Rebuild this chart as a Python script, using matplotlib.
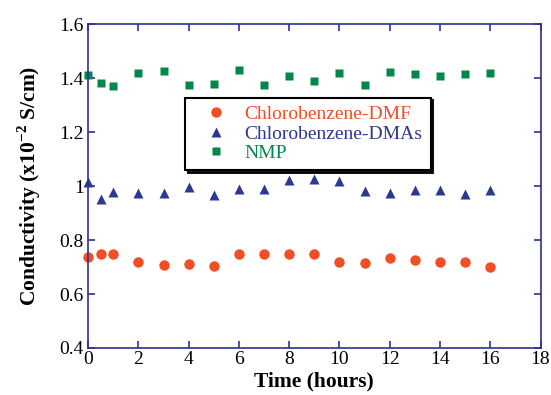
import numpy as np
import matplotlib.pyplot as plt

plt.rcParams['font.family'] = 'Liberation Serif'
plt.rcParams['mathtext.fontset'] = 'custom'
plt.rcParams['mathtext.rm'] = 'Liberation Serif'
plt.rcParams['mathtext.bf'] = 'Liberation Serif:bold'

# sampling times (hours)
time_h = [0, 0.5, 1, 2, 3, 4, 5, 6, 7, 8, 9, 10, 11, 12, 13, 14, 15, 16]

# conductivity, x10^-2 S/cm
dmf = [0.738, 0.747, 0.747, 0.719, 0.706, 0.712, 0.702, 0.747, 0.748,
       0.748, 0.749, 0.719, 0.715, 0.734, 0.726, 0.720, 0.717, 0.701]
dmas = [1.014, 0.951, 0.977, 0.973, 0.973, 0.995, 0.968, 0.988, 0.989,
        1.023, 1.025, 1.017, 0.980, 0.973, 0.984, 0.984, 0.969, 0.984]
nmp = [1.411, 1.383, 1.371, 1.417, 1.425, 1.375, 1.379, 1.431, 1.375,
       1.408, 1.391, 1.419, 1.376, 1.421, 1.415, 1.408, 1.415, 1.417]

xticks = [0, 2, 4, 6, 8, 10, 12, 14, 16, 18]
yticks = [0.4, 0.6, 0.8, 1.0, 1.2, 1.4, 1.6]
ytick_labels = ['0.4', '0.6', '0.8', '1', '1.2', '1.4', '1.6']

red = '#f04e23'
blue = '#2b3990'
green = '#00874a'
axis_blue = '#2e3192'

fig = plt.figure(figsize=(5.51, 3.95), dpi=100)
ax = fig.add_axes([0.160, 0.119, 0.821, 0.820])

ax.plot(time_h, dmf, 'o', color=red, ms=7.5, mec='none', label='Chlorobenzene-DMF', clip_on=False)
ax.plot(time_h, dmas, '^', color=blue, ms=7.5, mec='none', label='Chlorobenzene-DMAs', clip_on=False)
ax.plot(time_h, nmp, 's', color=green, ms=6, mec='none', label='NMP', clip_on=False)

ax.set_xlim(0, 18)
ax.set_ylim(0.4, 1.6)
ax.set_xticks(xticks)
ax.set_yticks(yticks)
ax.set_yticklabels(ytick_labels)

for s in ax.spines.values():
    s.set_color(axis_blue)
    s.set_linewidth(1.2)
ax.tick_params(direction='in', length=5, width=1.2, color=axis_blue,
               top=True, right=True, labelsize=14, pad=3)
ax.tick_params(axis='x', pad=2)

ax.set_xlabel('Time (hours)', fontsize=15.5, fontweight='bold', labelpad=3)
ax.set_ylabel(r'Conductivity (x10$^{\mathbf{-2}}$ S/cm)', fontsize=15.5,
              fontweight='bold', labelpad=12)

leg = ax.legend(loc='upper left', bbox_to_anchor=(0.215, 0.773), borderaxespad=0,
                fontsize=14, fancybox=False, framealpha=1, edgecolor='black',
                shadow={'color': 'black', 'alpha': 0.9},
                handletextpad=0.35, labelspacing=0.1, borderpad=0.4,
                handlelength=2.3, labelcolor='markerfacecolor')
leg.get_frame().set_linewidth(1.5)

fig.savefig('out.png', dpi=100)
